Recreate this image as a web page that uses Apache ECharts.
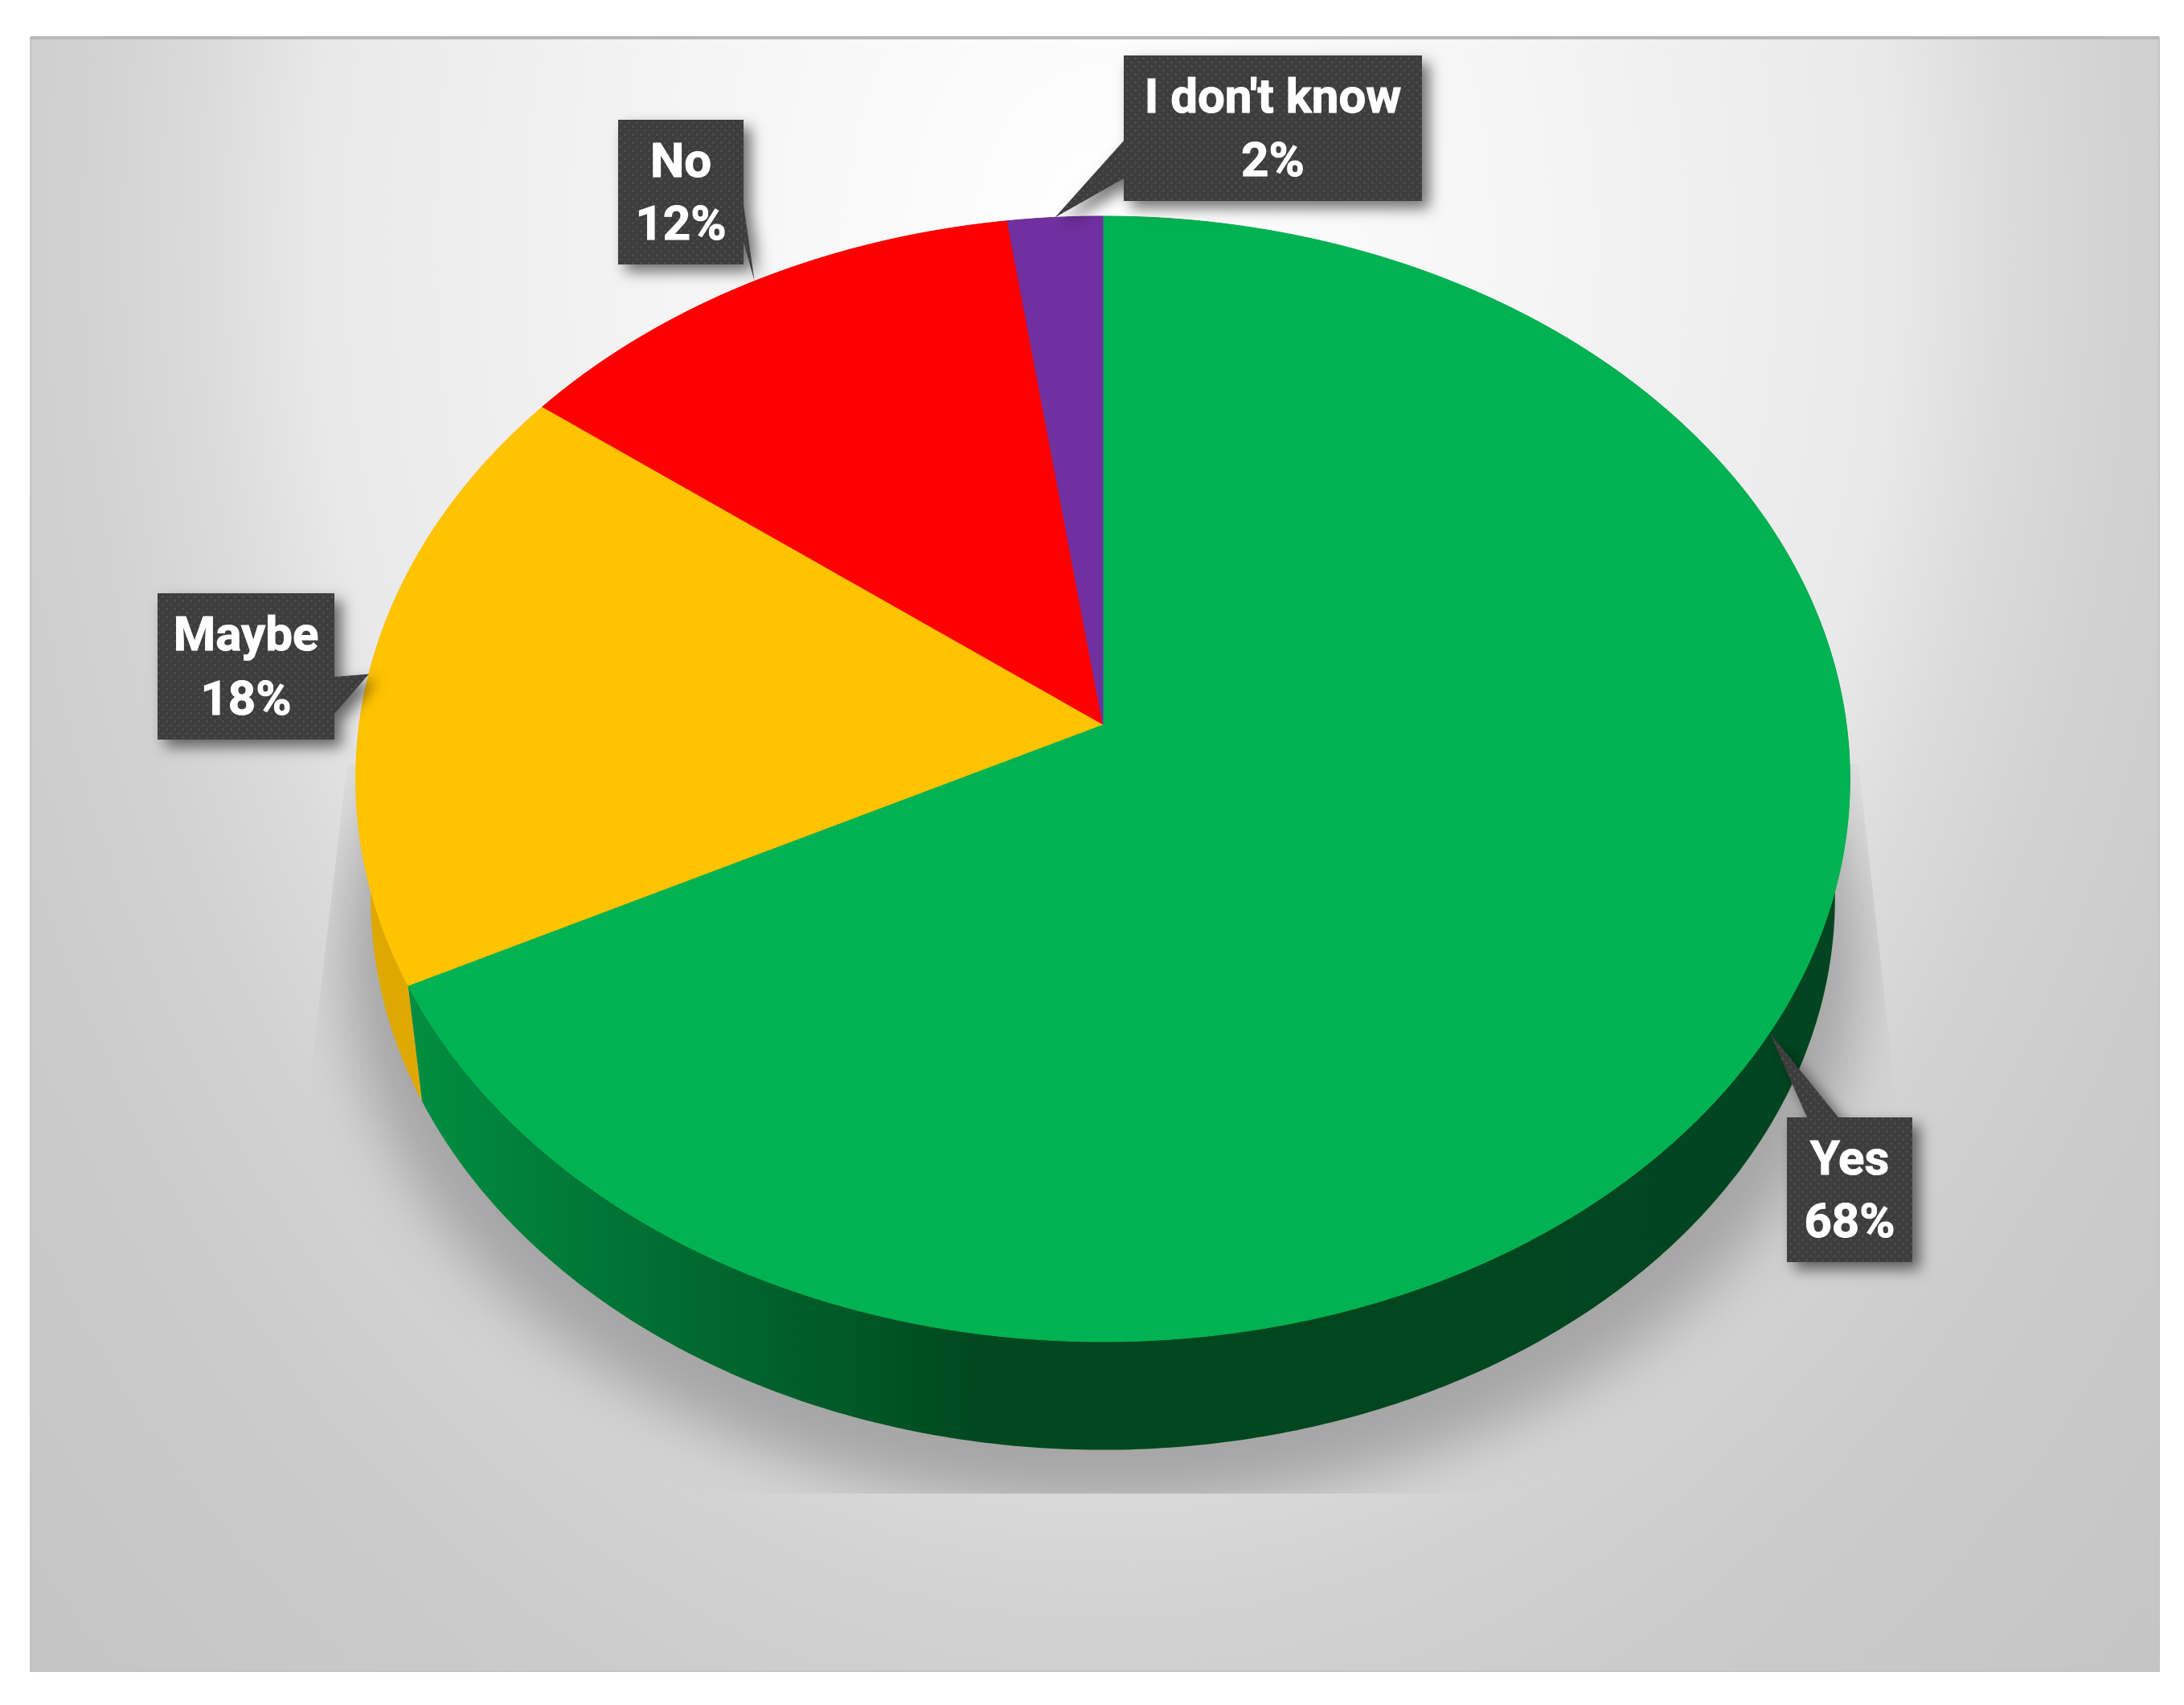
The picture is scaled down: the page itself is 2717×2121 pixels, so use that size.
<!DOCTYPE html>
<html>
<head>
<meta charset="utf-8">
<style>html,body{margin:0;padding:0;background:#fff}#c{width:2717px;height:2121px}</style>
<script src="https://cdn.jsdelivr.net/npm/echarts@6/dist/echarts.min.js"></script>
</head>
<body>
<div id="c"></div>
<script>
// ---- data ----
const categories = ['Yes', 'Maybe', 'No', "I don't know"];
const values = [67.6, 17.7, 12.45, 2.25];
const sliceColors = ['#00B251', '#FFC300', '#FF0000', '#7030A0'];

// ---- view of the tilted disc ----
const view = { cx: 1372, cy: 901, rx: 925, ry: 693.4, k: 0.0971, drop: 150, shrink: 0.98 };
const panel = { x: 38, y: 47, w: 2648, h: 2032 };
// callout boxes: box rectangle plus the two points where the pointer leaves it
const callouts = [
  { box: [2223, 1390, 2379, 1570], base: [[2287, 1390], [2248, 1390]] },
  { box: [196, 738, 416, 920], base: [[416, 888], [416, 842]] },
  { box: [769, 149, 925, 329], base: [[925, 301], [925, 255]] },
  { box: [1398, 69, 1769, 250], base: [[1398, 222], [1398, 175]] }
];

const total = values.reduce((a, b) => a + b, 0);
const starts = [];
values.reduce((acc, v, i) => { starts[i] = acc; return acc + v; }, 0);
const toAngle = v => v / total * 2 * Math.PI;

function rim(theta, low) {
  const u = Math.sin(theta), v = -Math.cos(theta), D = 1 - view.k * v;
  const s = low ? view.shrink : 1, h = low ? view.drop : 0;
  return [view.cx + s * view.rx * u / D, view.cy + h + s * view.ry * v / D];
}
function arc(a0, a1, low) {
  const n = Math.max(2, Math.ceil((a1 - a0) / 0.01)), pts = [];
  for (let j = 0; j <= n; j++) pts.push(rim(a0 + (a1 - a0) * j / n, low));
  return pts;
}
function sliceRange(i) {
  const a0 = toAngle(starts[i]);
  return [a0, a0 + toAngle(values[i])];
}

const seriesData = categories.map((c, i) => [i, values[i]]);

const dots = document.createElement('canvas');
dots.width = 10; dots.height = 10;
(function () {
  const g = dots.getContext('2d');
  g.fillStyle = '#3d3d3d'; g.fillRect(0, 0, 10, 10);
  g.fillStyle = '#4b4b4b';
  [[2.5, 2.5], [7.5, 7.5]].forEach(p => { g.beginPath(); g.arc(p[0], p[1], 1.8, 0, 7); g.fill(); });
})();

const sideFill = [
  new echarts.graphic.LinearGradient(500, 0, 2300, 0, [
    { offset: 0, color: '#008f42' },
    { offset: 0.2, color: '#006a30' },
    { offset: 0.4, color: '#00481f' },
    { offset: 1, color: '#004520' }
  ], true),
  '#DFA800', '#b00000', '#4e2070'
];

const chart = echarts.init(document.getElementById('c'), null, { renderer: 'canvas', width: 2717, height: 2121 });

const yScale = 1.344;
const away = 6000;
chart.setOption({
  animation: false,
  backgroundColor: '#ffffff',
  graphic: [
    {
      type: 'rect', x: panel.x, y: panel.y, scaleY: yScale, z: -10,
      shape: { x: 0, y: 0, width: panel.w, height: panel.h / yScale },
      style: {
        fill: new echarts.graphic.RadialGradient(panel.w * 0.505, 190, 1920, [
          { offset: 0, color: '#ffffff' },
          { offset: 0.276, color: '#f5f5f5' },
          { offset: 0.51, color: '#e9e9e9' },
          { offset: 0.586, color: '#dbdbdb' },
          { offset: 0.66, color: '#d2d2d2' },
          { offset: 0.77, color: '#cbcbcb' },
          { offset: 1, color: '#c4c4c4' }
        ], true)
      }
    },
    {
      type: 'rect', z: -9,
      shape: { x: panel.x, y: panel.y, width: panel.w, height: panel.h },
      style: { fill: 'transparent', stroke: '#c4c4c4', lineWidth: 2 }
    },
    {
      type: 'line', z: -9,
      shape: { x1: panel.x, y1: panel.y, x2: panel.x + panel.w, y2: panel.y },
      style: { stroke: '#b8b8b8', lineWidth: 4 }
    }
  ],
  series: [
    { // cast shadow
      type: 'custom', coordinateSystem: 'none', silent: true, z: 1,
      data: [[0]],
      renderItem() {
        const pts = arc(0, 2 * Math.PI, true).map(p => [
          view.cx + (p[0] - view.cx) * 1.035 - away, p[1] + 72
        ]);
        return {
          type: 'polygon',
          shape: { points: pts },
          style: { fill: '#a6a6a6', shadowColor: '#a6a6a6', shadowBlur: 70, shadowOffsetX: away },
          clipPath: {
            type: 'polygon',
            shape: { points: [[432, 950], [392, 1290], [340, 1858], [2400, 1858], [2350, 1290], [2312, 950]] }
          }
        };
      }
    },
    { // rim walls
      type: 'custom', coordinateSystem: 'none', silent: true, z: 2,
      data: seriesData,
      renderItem(params, api) {
        const i = api.value(0), [a0, a1] = sliceRange(i);
        const pts = arc(a0, a1, false).concat(arc(a0, a1, true).reverse());
        return { type: 'polygon', shape: { points: pts }, style: { fill: sideFill[i] } };
      }
    },
    { // top faces
      type: 'custom', coordinateSystem: 'none', silent: true, z: 3,
      data: seriesData,
      renderItem(params, api) {
        const i = api.value(0), [a0, a1] = sliceRange(i);
        const pts = [[view.cx, view.cy]].concat(arc(a0, a1, false));
        return {
          type: 'polygon', shape: { points: pts },
          style: { fill: sliceColors[i], stroke: sliceColors[i], lineWidth: 1 }
        };
      }
    },
    { // callouts
      type: 'custom', coordinateSystem: 'none', silent: true, z: 4,
      data: seriesData,
      renderItem(params, api) {
        const i = api.value(0), [a0, a1] = sliceRange(i);
        const c = callouts[i], [l, t, r, b] = c.box;
        const tip = rim((a0 + a1) / 2, false);
        const [p, q] = c.base;
        let pts;
        if (p[1] === t && q[1] === t) pts = [[l, t], q, tip, p, [r, t], [r, b], [l, b]];
        else if (p[0] === r) pts = [[l, t], [r, t], q, tip, p, [r, b], [l, b]];
        else pts = [[l, t], [r, t], [r, b], [l, b], p, tip, q];
        const mid = (l + r) / 2, hgt = b - t;
        const font = { fill: '#ffffff', stroke: '#ffffff', lineWidth: 1, fontFamily: 'Roboto, "Noto Sans", sans-serif', fontWeight: 700, fontSize: 60, align: 'center', verticalAlign: 'middle' };
        return {
          type: 'group',
          children: [
            {
              type: 'polygon', shape: { points: pts },
              style: {
                fill: { image: dots, repeat: 'repeat' },
                shadowColor: 'rgba(0,0,0,0.55)', shadowBlur: 18, shadowOffsetX: 9, shadowOffsetY: 9
              }
            },
            { type: 'text', style: Object.assign({ text: categories[i], x: mid, y: t + hgt * 0.31 }, font) },
            { type: 'text', style: Object.assign({ text: Math.round(values[i]) + '%', x: mid, y: t + hgt * 0.745 }, font) }
          ]
        };
      }
    }
  ]
});
</script>
</body>
</html>
